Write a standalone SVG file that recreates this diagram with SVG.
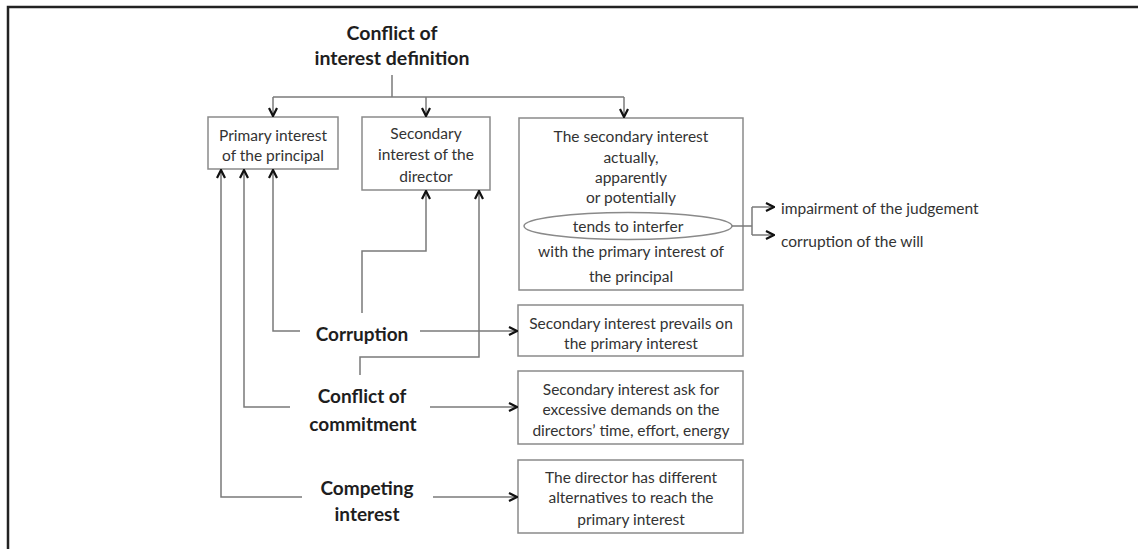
<svg xmlns="http://www.w3.org/2000/svg" width="1138" height="549" viewBox="0 0 1138 549">
<style>
.box{fill:#fff;stroke:#8a8a8a;stroke-width:1.5}
.t{font-family:Lato,"Liberation Sans",sans-serif;font-size:15.5px;fill:#333;text-anchor:middle;dominant-baseline:central}
.tl{font-family:Lato,"Liberation Sans",sans-serif;font-size:15.5px;fill:#333;dominant-baseline:central}
.b{font-family:Lato,"Liberation Sans",sans-serif;font-size:19px;font-weight:bold;fill:#1e1e1e;text-anchor:middle;dominant-baseline:central}
.bt{font-size:19.5px}
.c{fill:none;stroke:#7a7a7a;stroke-width:1.5}
.frame{fill:none;stroke:#222;stroke-width:2.5}
</style>
<defs>
<marker id="ah" viewBox="0 0 10 10" refX="9" refY="5" markerWidth="10" markerHeight="10" markerUnits="userSpaceOnUse" orient="auto">
<path d="M1,1 L9,5 L1,9" fill="none" stroke="#111" stroke-width="2.2"/>
</marker>
</defs>
<rect width="1138" height="549" fill="#fff"/>
<path class="frame" d="M8,549 L8,7 L1138,7"/>

<g id="title">
<text class="b bt" x="392" y="32">Conflict of</text>
<text class="b bt" x="392" y="57">interest definition</text>
</g>

<g id="primary">
<rect class="box" x="208" y="117" width="130" height="52"/>
<text class="t" x="273" y="135">Primary interest</text>
<text class="t" x="273" y="155">of the principal</text>
</g>

<g id="secondary">
<rect class="box" x="362" y="117" width="128" height="73"/>
<text class="t" x="426" y="133">Secondary</text>
<text class="t" x="426" y="154">interest of the</text>
<text class="t" x="426" y="176">director</text>
</g>

<g id="definition">
<rect class="box" x="519" y="118" width="224" height="172"/>
<text class="t" x="631" y="136">The secondary interest</text>
<text class="t" x="631" y="157">actually,</text>
<text class="t" x="631" y="177">apparently</text>
<text class="t" x="631" y="197">or potentially</text>
<ellipse cx="628" cy="226" rx="104" ry="13.5" fill="#fff" stroke="#8a8a8a" stroke-width="1.5"/>
<text class="t" x="628" y="226">tends to interfer</text>
<text class="t" x="631" y="251">with the primary interest of</text>
<text class="t" x="631" y="276">the principal</text>
</g>

<g id="impairment">
<text class="tl" x="781" y="208">impairment of the judgement</text>
</g>
<g id="corruption-will">
<text class="tl" x="781" y="241">corruption of the will</text>
</g>

<g id="corruption">
<text class="b" x="362" y="333">Corruption</text>
</g>
<g id="commitment">
<text class="b" x="362" y="395">Conflict of</text>
<text class="b" x="363" y="423">commitment</text>
</g>
<g id="competing">
<text class="b" x="367" y="487">Competing</text>
<text class="b" x="367" y="513">interest</text>
</g>

<g id="prevails">
<rect class="box" x="518" y="305" width="225" height="51"/>
<text class="t" x="631" y="323">Secondary interest prevails on</text>
<text class="t" x="631" y="343">the primary interest</text>
</g>
<g id="demands">
<rect class="box" x="518" y="371" width="225" height="73"/>
<text class="t" x="631" y="389">Secondary interest ask for</text>
<text class="t" x="631" y="409">excessive demands on the</text>
<text class="t" x="631" y="430">directors’ time, effort, energy</text>
</g>
<g id="alternatives">
<rect class="box" x="518" y="460" width="225" height="73"/>
<text class="t" x="631" y="477">The director has different</text>
<text class="t" x="631" y="497">alternatives to reach the</text>
<text class="t" x="631" y="519">primary interest</text>
</g>

<g id="connectors">
<path class="c" d="M392,75 L392,97"/>
<path class="c" d="M273,97 L624,97"/>
<path class="c" d="M273,97 L273,116" marker-end="url(#ah)"/>
<path class="c" d="M426,97 L426,116" marker-end="url(#ah)"/>
<path class="c" d="M624,97 L624,117" marker-end="url(#ah)"/>

<path class="c" d="M732,226 L752,226"/>
<path class="c" d="M752,207 L752,235"/>
<path class="c" d="M752,207 L774,207" marker-end="url(#ah)"/>
<path class="c" d="M752,235 L774,235" marker-end="url(#ah)"/>

<path class="c" d="M300,331 L273,331 L273,170" marker-end="url(#ah)"/>
<path class="c" d="M362,313 L362,251 L426,251 L426,191" marker-end="url(#ah)"/>
<path class="c" d="M420,331 L517,331" marker-end="url(#ah)"/>

<path class="c" d="M360,375 L360,357 L479,357 L479,191" marker-end="url(#ah)"/>
<path class="c" d="M290,407 L244,407 L244,170" marker-end="url(#ah)"/>
<path class="c" d="M430,407 L517,407" marker-end="url(#ah)"/>

<path class="c" d="M302,497 L221,497 L221,170" marker-end="url(#ah)"/>
<path class="c" d="M433,497 L517,497" marker-end="url(#ah)"/>
</g>
</svg>
